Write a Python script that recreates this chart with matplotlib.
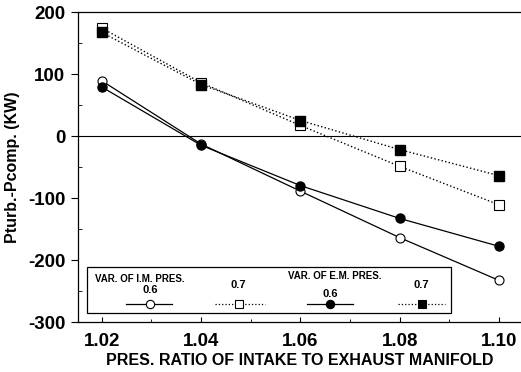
import matplotlib
matplotlib.use("Agg")
import matplotlib.pyplot as plt
from matplotlib.patches import Rectangle
from matplotlib.lines import Line2D
from matplotlib.ticker import MultipleLocator

plt.rcParams['font.family'] = ['Liberation Sans', 'DejaVu Sans']
plt.rcParams['axes.unicode_minus'] = False

x = [1.02, 1.04, 1.06, 1.08, 1.10]
im_06 = [89, -13, -89, -164, -233]
im_07 = [174, 86, 17, -49, -111]
em_06 = [79, -15, -80, -133, -178]
em_07 = [167, 83, 25, -22, -64]
xticks = [1.02, 1.04, 1.06, 1.08, 1.10]
xticklabels = ['1.02', '1.04', '1.06', '1.08', '1.10']
yticks = [-300, -200, -100, 0, 100, 200]

fig = plt.figure(figsize=(5.21, 3.72), dpi=100)
ax = fig.add_axes([0.1497, 0.1344, 0.8503, 0.8333])

ms = 6.5
ax.plot(x, im_06, '-', color='black', lw=0.9, marker='o', ms=ms, mfc='white', mec='black', mew=0.8)
ax.plot(x, em_06, '-', color='black', lw=0.9, marker='o', ms=ms, mfc='black', mec='black')
ax.plot(x, im_07, ':', color='black', lw=1.0, marker='s', ms=ms, mfc='white', mec='black', mew=0.8)
ax.plot(x, em_07, ':', color='black', lw=1.0, marker='s', ms=ms, mfc='black', mec='black')
ax.axhline(0, color='black', lw=0.8)

ax.set_xlim(1.0152, 1.1044)
ax.set_ylim(-300, 200)
ax.set_xticks(xticks)
ax.set_xticklabels(xticklabels)
ax.set_yticks(yticks)
ax.xaxis.set_minor_locator(MultipleLocator(0.01))
ax.yaxis.set_minor_locator(MultipleLocator(50))
ax.tick_params(axis='x', which='both', direction='in', top=False)
ax.tick_params(axis='x', which='major', pad=8)
ax.tick_params(axis='y', which='major', direction='out', length=5, pad=4)
ax.tick_params(axis='y', which='minor', direction='in', length=3)
ax.tick_params(axis='both', which='major', labelsize=13.5)
for lab in ax.get_xticklabels() + ax.get_yticklabels():
    lab.set_fontweight('bold')
ax.spines['right'].set_visible(False)
for s in ax.spines.values():
    s.set_linewidth(0.9)

ax.set_xlabel('PRES. RATIO OF INTAKE TO EXHAUST MANIFOLD', fontsize=11.5, fontweight='bold', labelpad=2)
ax.set_ylabel('Pturb.-Pcomp. (KW)', fontsize=11.5, fontweight='bold', labelpad=6)

# custom legend
T = ax.transAxes
ax.add_patch(Rectangle((0.0203, 0.029), 0.842 - 0.0203, 0.177 - 0.029, transform=T,
                       fill=True, facecolor='white', edgecolor='black', lw=0.9, zorder=5))
ax.text(0.038, 0.139, 'VAR. OF I.M. PRES.', transform=T, fontsize=7, fontweight='bold', va='center', ha='left', zorder=6)
ax.text(0.474, 0.148, 'VAR. OF E.M. PRES.', transform=T, fontsize=7, fontweight='bold', va='center', ha='left', zorder=6)
entries = [
    (0.1625, 0.103, (0.108, 0.212), '-', 'o', 'white', '0.6'),
    (0.363, 0.119, (0.309, 0.422), ':', 's', 'white', '0.7'),
    (0.569, 0.090, (0.517, 0.621), '-', 'o', 'black', '0.6'),
    (0.776, 0.119, (0.722, 0.828), ':', 's', 'black', '0.7'),
]
for cx, ty, (x0, x1), ls, mk, fc, lab in entries:
    ax.text(cx, ty, lab, transform=T, fontsize=8, fontweight='bold', ha='center', va='center', zorder=6)
    ax.add_line(Line2D([x0, x1], [0.058, 0.058], transform=T, ls=ls, color='black', lw=0.9, zorder=6))
    ax.add_line(Line2D([cx], [0.058], transform=T, marker=mk, ms=6, mfc=fc, mec='black', mew=0.8, zorder=7))

fig.savefig('out.png', dpi=100)
